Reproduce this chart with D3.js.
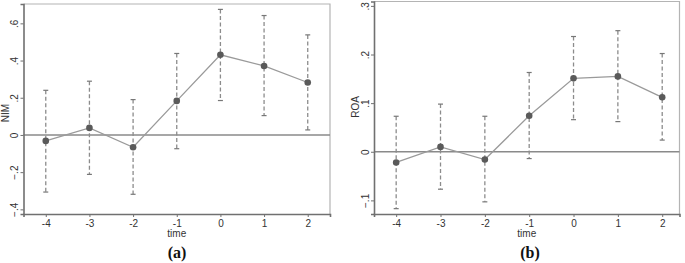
<!DOCTYPE html>
<html>
<head>
<meta charset="utf-8">
<script src="https://cdn.jsdelivr.net/npm/d3@7"></script>
<style>
  body { margin: 0; background: #fff; }
  svg text { font-family: "Liberation Sans", Arial, sans-serif; fill: #333; }
</style>
</head>
<body>
<svg id="chart" width="685" height="263"></svg>
<script>
// event time
var times = [-4, -3, -2, -1, 0, 1, 2];

// panel (a) NIM
var nimEst = [-0.032, 0.038, -0.066, 0.183, 0.431, 0.371, 0.282];
var nimHi  = [0.240, 0.289, 0.190, 0.438, 0.675, 0.642, 0.538];
var nimLo  = [-0.307, -0.212, -0.319, -0.074, 0.185, 0.104, 0.027];
var nimTicks = [-0.4, -0.2, 0, 0.2, 0.4, 0.6];

// panel (b) ROA
var roaEst = [-0.022, 0.010, -0.016, 0.074, 0.151, 0.155, 0.112];
var roaHi  = [0.073, 0.098, 0.073, 0.163, 0.237, 0.249, 0.202];
var roaLo  = [-0.117, -0.077, -0.103, -0.014, 0.066, 0.062, 0.024];
var roaTicks = [-0.1, 0, 0.1, 0.2, 0.3];

var svg = d3.select("#chart");

function fmt(v) {
    if (v === 0) return "0";
    var s = d3.format(".1f")(v);
    return s.replace("0.", ".");
}

function drawPanel(opt) {
    var g = svg.append("g");

    var x = d3.scaleLinear().domain(opt.xDomain).range([opt.left, opt.right]);
    var y = d3.scaleLinear().domain(opt.yDomain).range([opt.bottom, opt.top]);

    // frame top/right
    g.append("path")
        .attr("d", "M" + opt.left + "," + opt.top + "H" + opt.right + "V" + opt.bottom)
        .attr("fill", "none").attr("stroke", "#b4b4b4").attr("stroke-width", 1.2);

    // zero line
    g.append("line")
        .attr("x1", opt.left).attr("x2", opt.right)
        .attr("y1", y(0)).attr("y2", y(0))
        .attr("stroke", "#8a8a8a").attr("stroke-width", 1.6);

    // axes
    var yAxis = d3.axisLeft(y).tickValues(opt.yTicks).tickSize(3).tickPadding(5).tickFormat(fmt);
    var gy = g.append("g").attr("transform", "translate(" + opt.left + ",0)").call(yAxis);
    gy.select(".domain").attr("stroke", "#707070").attr("stroke-width", 1.6);
    gy.selectAll(".tick line").attr("stroke", "#707070");
    gy.selectAll(".tick text")
        .attr("font-size", 10)
        .attr("fill", "#333")
        .attr("transform", function(d) { return "rotate(-90," + (-9) + "," + 0 + ")"; })
        .attr("x", -9).attr("y", 0).attr("dy", "0.35em")
        .style("text-anchor", "middle");

    var xAxis = d3.axisBottom(x).tickValues(times).tickSize(3).tickPadding(3).tickFormat(d3.format("d"));
    var gx = g.append("g").attr("transform", "translate(0," + opt.bottom + ")").call(xAxis);
    gx.select(".domain").attr("stroke", "#707070").attr("stroke-width", 1.6);
    gx.selectAll(".tick line").attr("stroke", "#707070");
    gx.selectAll(".tick text").attr("font-size", 10).attr("fill", "#333");
    gx.selectAll("text").text(function(d) { return d < 0 ? "-" + Math.abs(d) : d; });

    // error bars
    var bars = g.selectAll(".ci").data(times).enter().append("g").attr("class", "ci");
    bars.append("line")
        .attr("x1", function(d) { return x(d); }).attr("x2", function(d) { return x(d); })
        .attr("y1", function(d, i) { return y(opt.hi[i]); })
        .attr("y2", function(d, i) { return y(opt.lo[i]); })
        .attr("stroke", "#8c8c8c").attr("stroke-width", 1.3).attr("stroke-dasharray", "4,2.5");
    bars.append("line")
        .attr("x1", function(d) { return x(d) - 2.5; }).attr("x2", function(d) { return x(d) + 2.5; })
        .attr("y1", function(d, i) { return y(opt.hi[i]); })
        .attr("y2", function(d, i) { return y(opt.hi[i]); })
        .attr("stroke", "#777").attr("stroke-width", 1.2);
    bars.append("line")
        .attr("x1", function(d) { return x(d) - 2.5; }).attr("x2", function(d) { return x(d) + 2.5; })
        .attr("y1", function(d, i) { return y(opt.lo[i]); })
        .attr("y2", function(d, i) { return y(opt.lo[i]); })
        .attr("stroke", "#777").attr("stroke-width", 1.2);

    // connecting line
    var line = d3.line()
        .x(function(d, i) { return x(times[i]); })
        .y(function(d) { return y(d); });
    g.append("path").datum(opt.est)
        .attr("d", line).attr("fill", "none")
        .attr("stroke", "#9a9a9a").attr("stroke-width", 1.3);

    g.selectAll(".pt").data(opt.est).enter().append("circle")
        .attr("class", "pt")
        .attr("cx", function(d, i) { return x(times[i]); })
        .attr("cy", function(d) { return y(d); })
        .attr("r", 3.3).attr("fill", "#5a5a5a");

    // labels
    g.append("text")
        .attr("transform", "translate(" + opt.yLabelX + "," + opt.yLabelY + ") rotate(-90)")
        .attr("text-anchor", "middle").attr("dy", "0.35em")
        .attr("font-size", 10).text(opt.yLabel);

    g.append("text")
        .attr("x", (opt.left + opt.right) / 2).attr("y", 237)
        .attr("text-anchor", "middle").attr("font-size", 10).text("time");

    g.append("text")
        .attr("x", opt.capX).attr("y", 258)
        .attr("text-anchor", "middle")
        .style("font-family", "'Liberation Serif', 'Times New Roman', serif")
        .style("font-weight", "bold").style("fill", "#111")
        .attr("font-size", 16).text(opt.caption);
}

drawPanel({
    left: 23.5, right: 330, top: 4, bottom: 214,
    xDomain: [-4.51, 2.51], yDomain: [-0.425, 0.704],
    yTicks: nimTicks, est: nimEst, hi: nimHi, lo: nimLo,
    yLabel: "NIM", yLabelX: 5, yLabelY: 113, caption: "(a)", capX: 177
});

drawPanel({
    left: 374, right: 679.5, top: 1.5, bottom: 214,
    xDomain: [-4.5, 2.39], yDomain: [-0.128, 0.309],
    yTicks: roaTicks, est: roaEst, hi: roaHi, lo: roaLo,
    yLabel: "ROA", yLabelX: 355, yLabelY: 107, caption: "(b)", capX: 530
});
</script>
</body>
</html>
